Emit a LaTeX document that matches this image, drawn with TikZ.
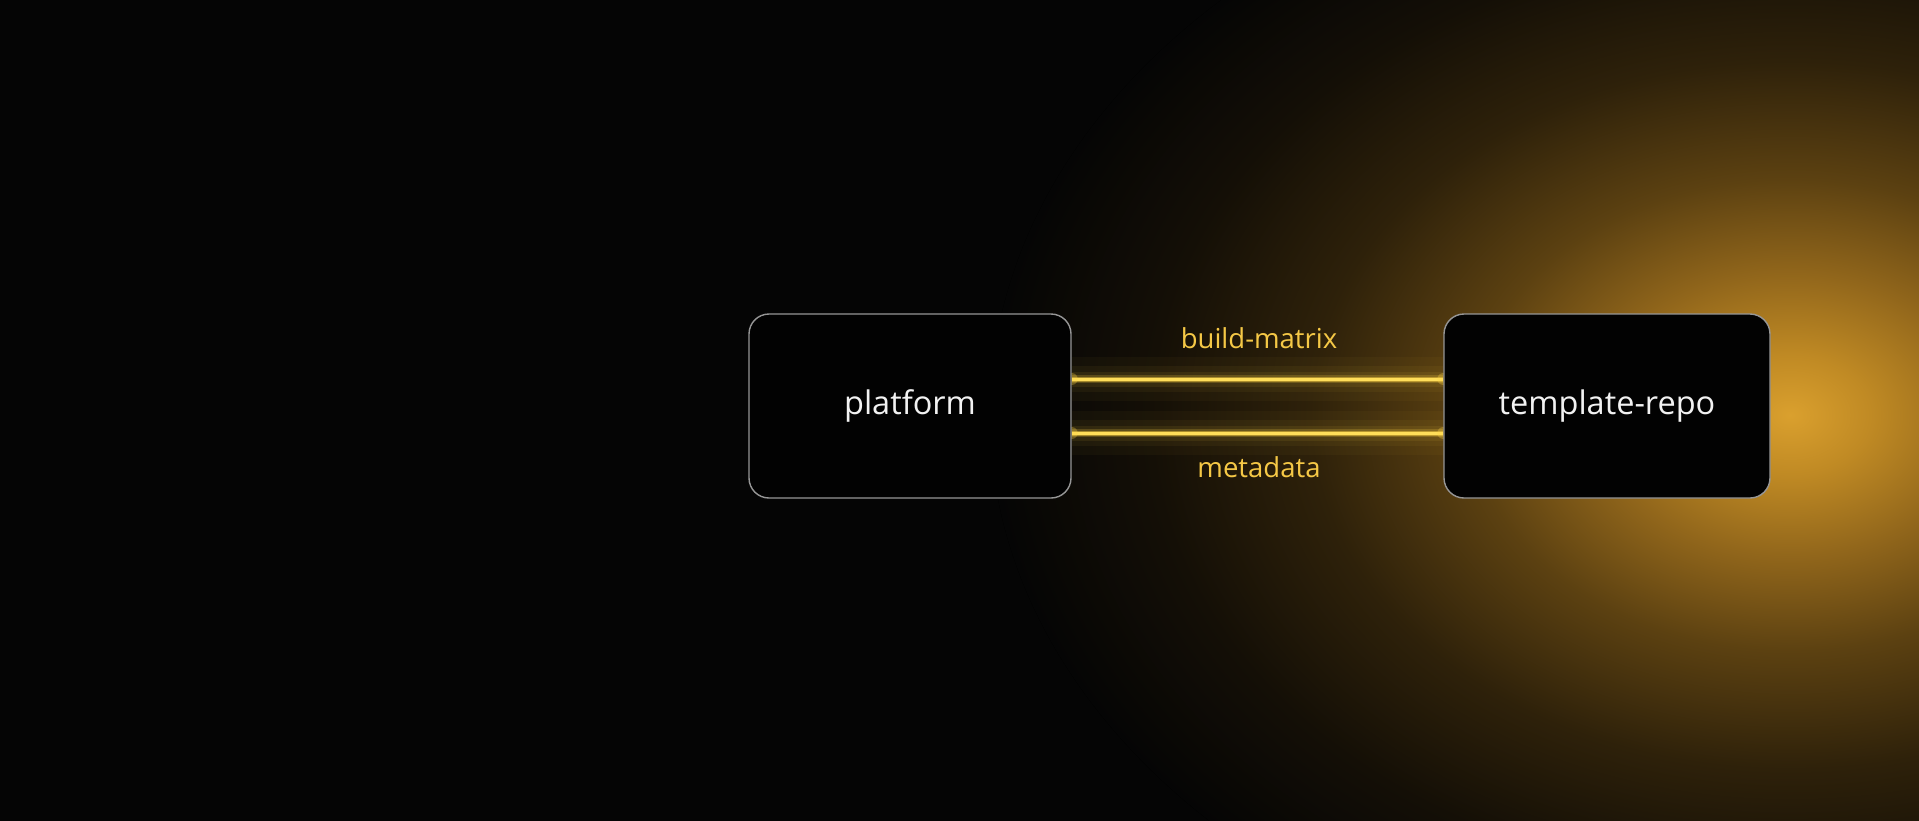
\documentclass[tikz,border=0pt]{standalone}
\usepackage{fontspec}
\setmainfont{Open Sans}
\usetikzlibrary{calc}
\definecolor{bgc}{RGB}{5,5,5}
\definecolor{boxgray}{RGB}{150,150,150}
\definecolor{boxfill}{RGB}{2,2,2}
\definecolor{lblY}{RGB}{245,200,70}
\definecolor{lineY}{RGB}{255,214,70}
\definecolor{amber}{RGB}{220,160,40}
\definecolor{g0}{RGB}{218,160,46}
\definecolor{g1}{RGB}{192,138,36}
\definecolor{g2}{RGB}{145,102,27}
\definecolor{g3}{RGB}{92,65,17}
\definecolor{g4}{RGB}{46,33,10}
\definecolor{g5}{RGB}{20,15,6}
\pgfdeclareradialshading{amberglow}{\pgfpoint{0bp}{0bp}}{color(0bp)=(g0); color(2.5bp)=(g1); color(6bp)=(g2); color(10bp)=(g3); color(15bp)=(g4); color(20bp)=(g5); color(25bp)=(bgc); color(50bp)=(bgc)}
\pgfdeclarelayer{back}
\pgfdeclarelayer{lines}
\pgfsetlayers{back,lines,main}
\begin{document}
\begin{tikzpicture}[x=1pt,y=-1pt,
  box/.style={draw=boxgray, line width=1.4pt, fill=boxfill, rounded corners=20pt,
    minimum width=#1, minimum height=184pt, inner sep=0pt, text={rgb,255:red,242;green,242;blue,242},
    font=\fontsize{32.5}{38}\selectfont},
  lbl/.style={text=lblY, font=\fontsize{27.5}{32}\selectfont, anchor=base, inner sep=0pt},
  glowline/.style={draw=lineY, line width=#1},
  core/.style={draw={rgb,255:red,255;green,222;blue,90}, line width=3pt}
]
\useasboundingbox (0,0) rectangle (1919,820);
\begin{pgfonlayer}{back}
  \fill[bgc] (-10,-10) rectangle (1929,830);
  \fill[shading=amberglow] (1790,415) ellipse [x radius=800pt, y radius=590pt];
\end{pgfonlayer}

\node[box=322pt] (platform) at (910,406) {platform};
\node[box=326pt] (repo) at (1607,406) {template-repo};

\node[lbl] (bm) at (1259,348) {build-matrix};
\node[lbl] (md) at (1259,477) {metadata};

\begin{pgfonlayer}{lines}
  \foreach \s in {27pt,-27pt}{
    \draw[glowline=44pt, opacity=0.035] ([yshift=\s]platform.east) -- ([yshift=\s]repo.west);
    \draw[glowline=26pt, opacity=0.05] ([yshift=\s]platform.east) -- ([yshift=\s]repo.west);
    \draw[glowline=15pt, opacity=0.08] ([yshift=\s]platform.east) -- ([yshift=\s]repo.west);
    \draw[glowline=8pt, opacity=0.2] ([yshift=\s]platform.east) -- ([yshift=\s]repo.west);
    \draw[glowline=5pt, opacity=0.45] ([yshift=\s]platform.east) -- ([yshift=\s]repo.west);
    \draw[core] ([yshift=\s]platform.east) -- ([yshift=\s]repo.west);
    \fill[lineY, opacity=0.3] ([yshift=\s]platform.east) circle (6pt);
    \fill[lineY, opacity=0.3] ([yshift=\s]repo.west) circle (6pt);
  }
\end{pgfonlayer}
\end{tikzpicture}
\end{document}
